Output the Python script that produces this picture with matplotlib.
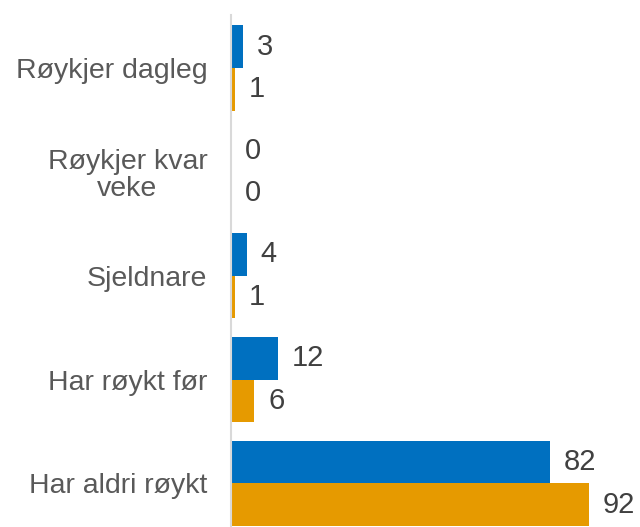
import numpy as np
import matplotlib.pyplot as plt

categories = ["Røykjer dagleg", "Røykjer kvar\nveke", "Sjeldnare", "Har røykt før", "Har aldri røykt"]
serie_a = [3, 0, 4, 12, 82]
serie_b = [1, 0, 1, 6, 92]

blue = "#0070C0"
orange = "#E69A00"

plt.rcParams["font.family"] = ["Liberation Sans", "DejaVu Sans"]

fig = plt.figure(figsize=(6.4, 5.27), dpi=100)
ax = fig.add_axes([231 / 640, 0, 389 / 640, 512 / 527])

y = np.arange(len(categories))
h = 0.41
ax.barh(y - h / 2, serie_a, height=h, color=blue)
ax.barh(y + h / 2, serie_b, height=h, color=orange)

for yi, a, b in zip(y, serie_a, serie_b):
    ax.annotate(str(a), (a, yi - h / 2), xytext=(10, 0), textcoords="offset points",
                va="center", ha="left", fontsize=21, color="#404040")
    ax.annotate(str(b), (b, yi + h / 2), xytext=(10, 0), textcoords="offset points",
                va="center", ha="left", fontsize=21, color="#404040")

ax.set_yticks(y)
ax.set_yticklabels(categories, fontsize=20.5, color="#595959", multialignment="center",
                   linespacing=1.05)
ax.tick_params(axis="y", length=0, pad=17)
ax.set_xticks([])
ax.set_xlim(0, 100)
ax.set_ylim(4.42, -0.51)

for side in ["top", "right", "bottom"]:
    ax.spines[side].set_visible(False)
ax.spines["left"].set_color("#D9D9D9")
ax.spines["left"].set_linewidth(1.5)

fig.savefig("out.png", dpi=100)
